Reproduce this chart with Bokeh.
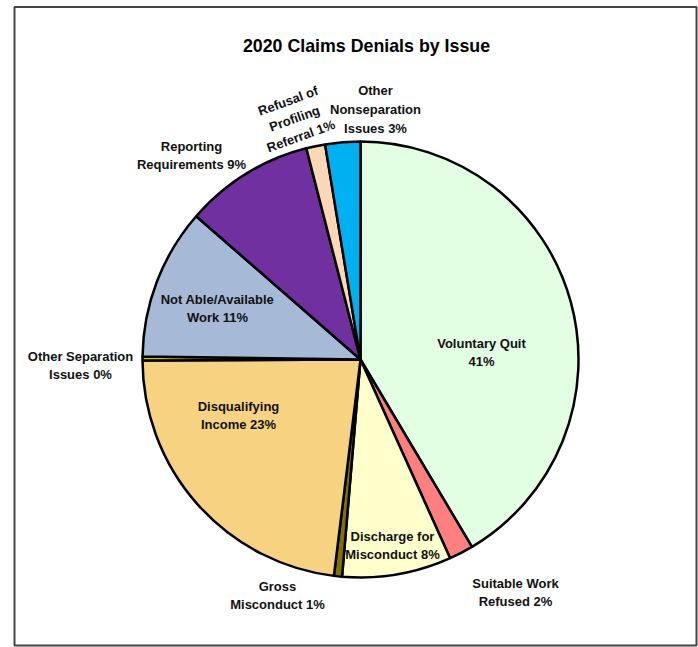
import numpy as np
from bokeh.plotting import figure
from bokeh.models import Range1d
from bokeh.core.properties import value
from bokeh.embed import file_html
from bokeh.resources import INLINE

# ---- data ----
categories = ["Voluntary Quit", "Suitable Work Refused", "Discharge for Misconduct",
              "Gross Misconduct", "Disqualifying Income", "Other Separation Issues",
              "Not Able/Available Work", "Reporting Requirements",
              "Refusal of Profiling Referral", "Other Nonseparation Issues"]
shares = [41.5, 1.8, 8.1, 0.6, 23.0, 0.3, 11.2, 9.6, 1.4, 2.6]
labels = ["Voluntary Quit\n41%", "Suitable Work\nRefused 2%", "Discharge for\nMisconduct 8%",
          "Gross\nMisconduct 1%", "Disqualifying\nIncome 23%", "Other Separation\nIssues 0%",
          "Not Able/Available\nWork 11%", "Reporting\nRequirements 9%",
          "Refusal of\nProfiling\nReferral 1%", "Other\nNonseparation\nIssues 3%"]

# ---- styles / layout ----
colors = ["#E3FFE3", "#FF7F7F", "#FFFFCC", "#7F7000", "#F7D381", "#CCCC00",
          "#A6B9D6", "#7030A0", "#FAD8B5", "#00B0F0"]
label_px = [(481, 352), (515, 592), (392, 545), (277, 595), (238, 415), (80, 365),
            (217, 308), (191, 155), (294, 118), (375, 109)]
label_angle = [0, 0, 0, 0, 0, 0, 0, 0, 20, 0]
cx, cy, R = 360, 359, 218

W, H = 698, 647
p = figure(width=W, height=H, output_backend="svg", toolbar_location=None,
           x_range=Range1d(0, W), y_range=Range1d(-H, 0),
           min_border=0, outline_line_color=None)
p.axis.visible = False
p.grid.visible = False

# outer frame
p.quad(left=[14], right=[696], top=[-6.5], bottom=[-645],
       fill_color=None, line_color="#444444", line_width=2)

vals = np.array(shares, dtype=float)
frac = vals / vals.sum()
cum = np.concatenate([[0], np.cumsum(frac)])
start = np.pi / 2 - 2 * np.pi * cum[:-1]
end = np.pi / 2 - 2 * np.pi * cum[1:]

p.wedge(x=[cx] * len(vals), y=[-cy] * len(vals), radius=R,
        start_angle=list(start), end_angle=list(end), direction="clock",
        fill_color=colors, line_color="black", line_width=2.5)

font = value("Liberation Sans")
for lab, (lx, ly), ang in zip(labels, label_px, label_angle):
    p.text(x=[lx], y=[-ly], text=[lab], angle=np.deg2rad(ang),
           text_align="center", text_baseline="middle",
           text_font=font, text_font_style="bold", text_font_size="13px",
           text_color="#111111", text_line_height=1.25)

p.text(x=[366], y=[-45], text=["2020 Claims Denials by Issue"],
       text_align="center", text_baseline="middle",
       text_font=value("Liberation Sans"), text_font_style="bold",
       text_font_size="17.8px", text_color="black")

open("out.html", "w").write(file_html(p, INLINE))
